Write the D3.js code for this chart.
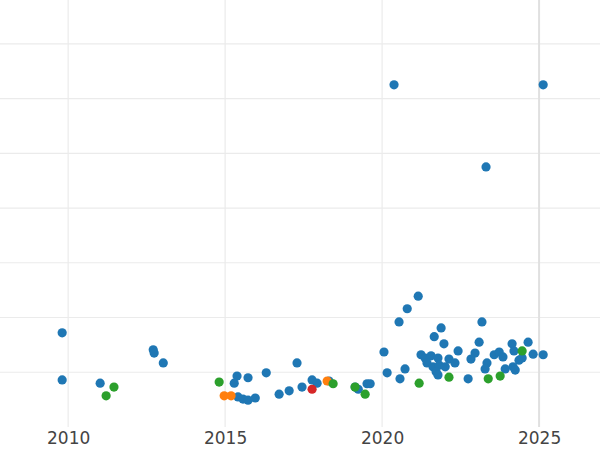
<!DOCTYPE html><html><head><meta charset="utf-8"><script src="https://cdn.jsdelivr.net/npm/d3@7"></script>
<style>body{margin:0;background:#fff}</style></head><body><svg id="c" width="600" height="450"></svg><script>
const xTicks=[2010,2015,2020,2025];
const yGrid=[1,2,3,4,5,6,7];
const blueYear=[2009.81,2009.81,2011.02,2012.71,2012.74,2013.03,2015.38,2015.29,2015.73,2016.31,2017.29,2015.41,2015.57,2015.73,2015.96,2016.72,2017.04,2017.45,2017.77,2017.93,2018.31,2019.24,2019.52,
2020.38,2025.13,2023.31,2021.15,2020.80,2020.54,2023.18,2021.88,2021.66,2021.97,2020.06,2022.42,2023.09,2021.24,2021.37,2021.56,2021.78,2022.13,2022.32,2021.43,2021.62,2021.82,2022.01,2021.72,2021.78,2022.96,2022.83,2023.34,2023.28,2023.57,2023.73,2023.85,2023.92,2024.14,2024.20,2024.65,2024.81,2025.13,2024.36,2024.46,2024.17,2024.24,2020.16,2020.73,2020.57,2022.74,2019.62,2019.14];
const blueVal=[1.72,0.86,0.80,1.41,1.35,1.17,0.93,0.80,0.90,0.99,1.17,0.55,0.51,0.49,0.53,0.60,0.66,0.73,0.86,0.80,0.84,0.69,0.79,
6.25,6.25,4.75,2.39,2.16,1.92,1.92,1.81,1.65,1.52,1.37,1.39,1.55,1.32,1.26,1.30,1.26,1.24,1.17,1.17,1.10,1.13,1.10,1.01,0.95,1.35,1.24,1.17,1.06,1.32,1.37,1.28,1.06,1.52,1.39,1.55,1.33,1.32,1.22,1.26,1.10,1.04,0.99,1.06,0.88,0.88,0.79,0.73];
const orangeYear=[2014.97,2015.19,2018.25];
const orangeVal=[0.57,0.57,0.84];
const greenYear=[2014.81,2011.21,2011.46,2018.44,2019.14,2019.46,2021.18,2022.13,2023.38,2023.76,2024.46];
const greenVal=[0.82,0.57,0.73,0.79,0.73,0.60,0.80,0.91,0.88,0.93,1.39];
const redYear=[2017.77];
const redVal=[0.69];

const svg=d3.select("#c");
const x=d3.scaleLinear().domain([2007.83,2026.94]).range([0,600]);
const y=d3.scaleLinear().domain([0,7.8]).range([427,0]);
svg.append("g").selectAll("line").data(yGrid).join("line")
 .attr("x1",0).attr("x2",600).attr("y1",d=>y(d)).attr("y2",d=>y(d)).attr("stroke","#ebebeb").attr("stroke-width",1.2);
svg.append("g").selectAll("line").data(xTicks).join("line")
 .attr("y1",0).attr("y2",427).attr("x1",d=>x(d)).attr("x2",d=>x(d)).attr("stroke",d=>d===2025?"#e0e0e0":"#ebebeb").attr("stroke-width",d=>d===2025?2:1.2);
const ax=svg.append("g").attr("transform","translate(0,427)").call(d3.axisBottom(x).tickValues(xTicks).tickFormat(d3.format("d")).tickSize(0).tickPadding(5));
ax.select(".domain").remove();
ax.selectAll("text").attr("font-family","DejaVu Sans").attr("font-size",17).attr("fill","#444");
function pts(xs,vs,col){svg.append("g").selectAll("circle").data(xs.map((d,i)=>[d,vs[i]])).join("circle")
 .attr("cx",d=>x(d[0])).attr("cy",d=>y(d[1])).attr("r",4.6).attr("fill",col);}
pts(blueYear,blueVal,"#1f77b4");
pts(orangeYear,orangeVal,"#ff7f0e");
pts(greenYear,greenVal,"#2ca02c");
pts(redYear,redVal,"#d62728");
</script></body></html>
